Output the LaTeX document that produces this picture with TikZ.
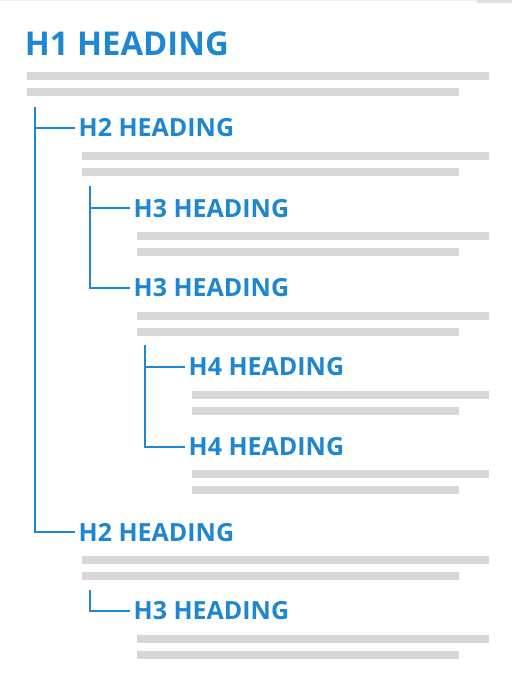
\documentclass[tikz,border=0pt]{standalone}
\usepackage{fontspec}
\setmainfont{Open Sans}
\definecolor{hblue}{RGB}{31,134,209}
\definecolor{bargray}{RGB}{215,215,217}
\newcommand\twobars[2]{%
  \fill[bar] (#1,{#2}) rectangle (489,{#2+8});
  \fill[bar] (#1,{#2+16}) rectangle (459,{#2+24});}
\begin{document}
\begin{tikzpicture}[x=1pt,y=-1pt,
  hd/.style={anchor=base west,inner sep=0pt,text=hblue,font=\fontsize{25}{25}\selectfont\bfseries},
  hone/.style={hd,font=\fontsize{32.8}{33}\selectfont\bfseries},
  tree/.style={draw=hblue,line width=2pt},
  bar/.style={fill=bargray}]
\useasboundingbox (0,0) rectangle (512,681);
\fill[white] (0,0) rectangle (512,681);
\draw[gray!12,line width=0.8pt] (0,0.4) -- (477,0.4);
\fill[gray!25] (477,0) rectangle (512,3);

% headings
\node[hone] (h1)  at (24.6,55)    {H1 HEADING};
\node[hd]   (h2a) at (78.5,136.5) {H2 HEADING};
\node[hd]   (h3a) at (133.5,217)  {H3 HEADING};
\node[hd]   (h3b) at (133.5,296.5){H3 HEADING};
\node[hd]   (h4a) at (188.5,375.5){H4 HEADING};
\node[hd]   (h4b) at (188.5,455.5){H4 HEADING};
\node[hd]   (h2b) at (78.5,541)   {H2 HEADING};
\node[hd]   (h3c) at (133.5,619.5){H3 HEADING};

% text bars
\twobars{27}{72}
\twobars{82}{152}
\twobars{137}{232}
\twobars{137}{312}
\twobars{192}{391}
\twobars{192}{470}
\twobars{82}{556}
\twobars{137}{635}

% tree connectors
\coordinate (v1) at (35,107);
\coordinate (v2) at (90,186);
\coordinate (v3) at (145,345);
\coordinate (v4) at (90,590);
\draw[tree] (v1) |- ([xshift=-3.5pt]h2b.west);
\draw[tree] (v1 |- h2a.west) -- ([xshift=-3.5pt]h2a.west);
\draw[tree] (v2) |- ([xshift=-3.5pt]h3b.west);
\draw[tree] (v2 |- h3a.west) -- ([xshift=-3.5pt]h3a.west);
\draw[tree] (v3) |- ([xshift=-3.5pt]h4b.west);
\draw[tree] (v3 |- h4a.west) -- ([xshift=-3.5pt]h4a.west);
\draw[tree] (v4) |- ([xshift=-3.5pt]h3c.west);
\end{tikzpicture}
\end{document}
